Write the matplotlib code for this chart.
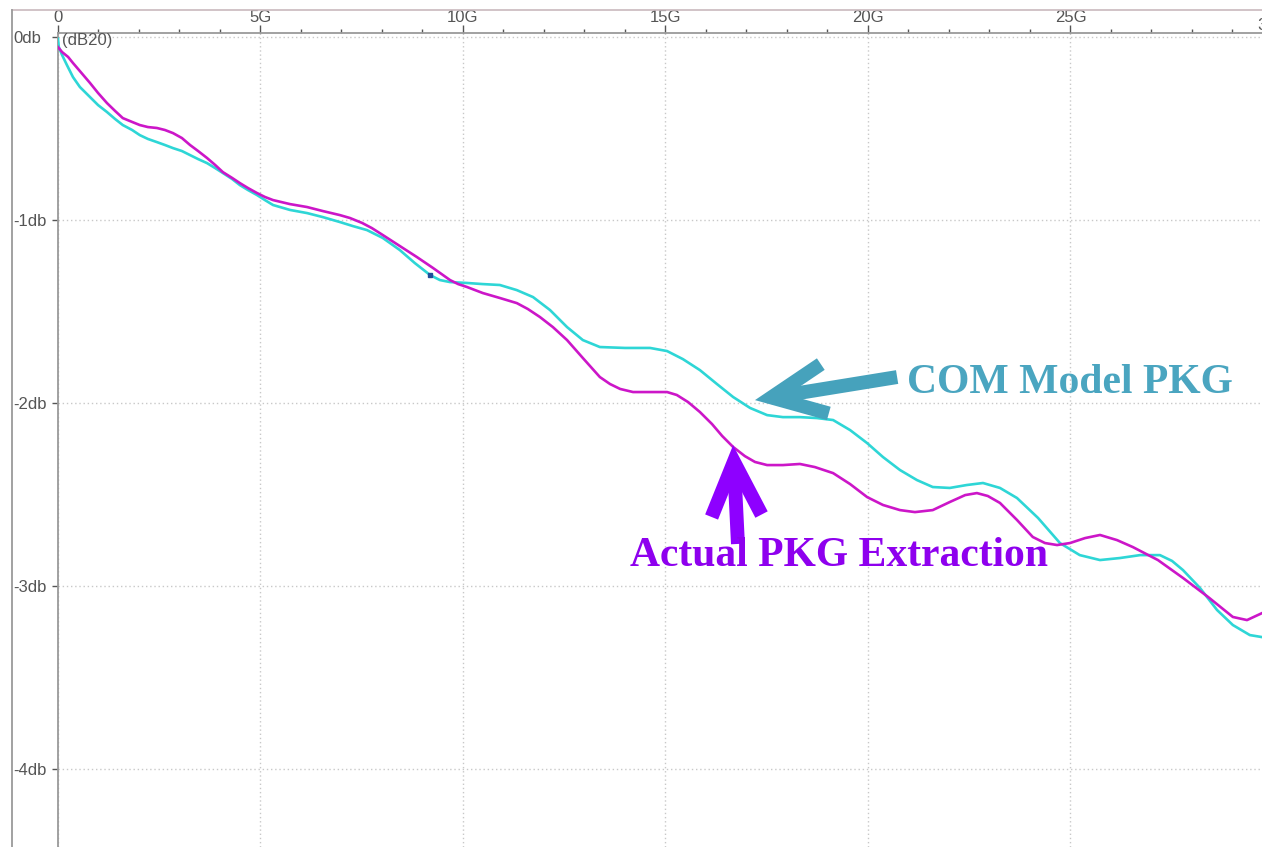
import matplotlib.pyplot as plt
from matplotlib.lines import Line2D
from matplotlib.transforms import blended_transform_factory

# frequency in GHz, loss in dB
actual_freq = [0.00, 0.10, 0.25, 0.37, 0.54, 0.79, 0.99, 1.21, 1.41, 1.60, 1.83, 2.02, 2.22,
               2.44, 2.64, 2.84, 3.06, 3.26, 3.46, 3.68, 3.88, 4.07, 4.30, 4.49, 4.69, 4.91,
               5.11, 5.31, 5.73, 6.15, 6.54, 6.96, 7.21, 7.51, 7.75, 8.02, 8.44, 8.86, 9.26,
               9.68, 9.88, 10.10, 10.30, 10.49, 10.91, 11.33, 11.60, 11.90, 12.22, 12.57,
               12.96, 13.38, 13.63, 13.88, 14.20, 14.62, 15.04, 15.28, 15.56, 15.85, 16.15,
               16.40, 16.67, 16.96, 17.21, 17.51, 17.90, 18.32, 18.69, 19.14, 19.56, 19.98,
               20.37, 20.79, 21.16, 21.60, 22.02, 22.40, 22.69, 22.96, 23.26, 23.68, 24.07,
               24.37, 24.67, 24.99, 25.36, 25.73, 26.15, 26.54, 27.16, 27.78, 28.40, 29.01,
               29.36, 29.73]
actual_db = [-0.055, -0.082, -0.109, -0.142, -0.186, -0.251, -0.306, -0.361, -0.404, -0.443,
             -0.464, -0.481, -0.492, -0.497, -0.508, -0.525, -0.552, -0.590, -0.623, -0.661,
             -0.699, -0.738, -0.770, -0.798, -0.825, -0.852, -0.874, -0.891, -0.913, -0.929,
             -0.951, -0.973, -0.989, -1.016, -1.044, -1.082, -1.142, -1.202, -1.262, -1.328,
             -1.350, -1.366, -1.383, -1.399, -1.426, -1.454, -1.486, -1.530, -1.585, -1.656,
             -1.754, -1.858, -1.896, -1.923, -1.940, -1.940, -1.940, -1.956, -1.995, -2.049,
             -2.115, -2.180, -2.240, -2.290, -2.322, -2.339, -2.339, -2.333, -2.350, -2.383,
             -2.443, -2.514, -2.557, -2.585, -2.596, -2.585, -2.541, -2.503, -2.492, -2.508,
             -2.546, -2.639, -2.732, -2.765, -2.776, -2.765, -2.738, -2.721, -2.749, -2.787,
             -2.858, -2.956, -3.060, -3.169, -3.186, -3.148]

com_freq = [0.00, 0.02, 0.10, 0.22, 0.37, 0.54, 0.79, 0.99, 1.21, 1.41, 1.60, 1.83, 2.02, 2.22,
            2.44, 2.64, 2.84, 3.06, 3.26, 3.46, 3.68, 3.88, 4.07, 4.30, 4.49, 4.69, 4.91, 5.11,
            5.31, 5.73, 6.15, 6.54, 6.96, 7.28, 7.63, 8.02, 8.44, 8.81, 9.19, 9.43, 9.68,
            10.10, 10.49, 10.91, 11.33, 11.73, 12.15, 12.57, 12.96, 13.38, 14.00, 14.62,
            15.04, 15.43, 15.85, 16.27, 16.67, 17.09, 17.51, 17.90, 18.32, 18.74, 19.14,
            19.56, 19.98, 20.37, 20.79, 21.21, 21.60, 22.02, 22.44, 22.84, 23.26, 23.68,
            24.20, 24.74, 25.23, 25.73, 26.22, 26.72, 27.21, 27.51, 27.78, 28.20, 28.62,
            29.01, 29.43, 29.73]
com_db = [-0.01, -0.055, -0.098, -0.153, -0.219, -0.273, -0.328, -0.372, -0.410, -0.448,
          -0.481, -0.508, -0.536, -0.557, -0.574, -0.590, -0.607, -0.623, -0.645, -0.667,
          -0.689, -0.716, -0.743, -0.776, -0.809, -0.836, -0.863, -0.891, -0.918, -0.945,
          -0.962, -0.984, -1.011, -1.033, -1.055, -1.098, -1.164, -1.235, -1.301, -1.328,
          -1.339, -1.344, -1.350, -1.355, -1.383, -1.421, -1.492, -1.585, -1.656, -1.694,
          -1.699, -1.699, -1.716, -1.760, -1.820, -1.896, -1.967, -2.027, -2.066, -2.077,
          -2.077, -2.082, -2.093, -2.148, -2.219, -2.295, -2.366, -2.421, -2.459, -2.464,
          -2.448, -2.437, -2.464, -2.519, -2.628, -2.765, -2.831, -2.858, -2.847, -2.831,
          -2.831, -2.863, -2.913, -3.011, -3.131, -3.213, -3.268, -3.279]

marker_freq = [9.19]
marker_db = [-1.30]

x_ticks = [0, 5, 10, 15, 20, 25]
x_labels = ["0", "5G", "10G", "15G", "20G", "25G"]
y_ticks = [0, -1, -2, -3, -4]
y_labels = ["0db", "-1db", "-2db", "-3db", "-4db"]

W, H = 1262, 847
fig = plt.figure(figsize=(W / 100, H / 100), dpi=100)
ax = fig.add_axes([58 / W, 0, 1 - 58 / W, (H - 33) / H])

ax.plot(com_freq, com_db, color="#2ED6D6", lw=1.9, zorder=3)
ax.plot(actual_freq, actual_db, color="#CC16C8", lw=1.9, zorder=4)
ax.plot(marker_freq, marker_db, "s", color="#1F4E9A", ms=3.5, zorder=5)

ax.set_xlim(0, 29.73)
ax.set_ylim(-4.426, 0.022)

# axis on top, labels like the simulator
lab_font = dict(family="Liberation Sans", size=12)
ax.xaxis.tick_top()
ax.set_xticks(x_ticks)
ax.set_xticklabels(x_labels, fontdict=lab_font)
ax.set_xticks(range(0, 30), minor=True)
ax.set_yticks(y_ticks)
ax.set_yticklabels(y_labels, fontdict=lab_font)
ax.tick_params(axis="x", which="major", length=6, width=1, color="#555555", pad=0,
               labelcolor="#555555")
ax.tick_params(axis="x", which="minor", length=3, width=1, color="#555555")
ax.tick_params(axis="y", length=4, width=1, color="#555555", pad=28, labelcolor="#555555")
for lab in ax.get_yticklabels():
    lab.set_horizontalalignment("left")

for s in ["right", "bottom"]:
    ax.spines[s].set_visible(False)
for s in ["left", "top"]:
    ax.spines[s].set_color("#9A9A9A")
    ax.spines[s].set_linewidth(1.3)

ax.grid(True, which="major", color="#C8C8C8", linestyle=(0, (1, 2)), lw=1)
ax.set_axisbelow(True)

# the 30G label is cut by the window edge
trans = blended_transform_factory(ax.transData, ax.transAxes)
ax.text(30, 1.0, "30G", transform=trans, ha="center", va="bottom", color="#555555",
        clip_on=False, **lab_font)

fig.text(62 / W, 1 - 40 / H, "(dB20)", color="#555555", va="center", **lab_font)

# window frame
fig.add_artist(Line2D([12 / W, 1], [1 - 10 / H, 1 - 10 / H], color="#C9B9BE", lw=1.2))
fig.add_artist(Line2D([12 / W, 12 / W], [0, 1 - 10 / H], color="#9A9A9A", lw=1.3))

# annotations
arrow_style = "->,head_length=0.65,head_width=0.3"
ax.annotate("", xy=(17.21, -1.984), xytext=(20.72, -1.858),
            arrowprops=dict(arrowstyle=arrow_style, lw=10, color="#46A2BC", shrinkA=0,
                            shrinkB=0, mutation_scale=60, capstyle="butt", joinstyle="miter"),
            zorder=6)
ax.text(20.96, -1.89, "COM Model PKG", fontsize=30, fontweight="bold",
        family="Liberation Serif", color="#4AA5C0", va="center", ha="left", zorder=6)

ax.annotate("", xy=(16.67, -2.23), xytext=(16.79, -2.77),
            arrowprops=dict(arrowstyle=arrow_style, lw=10, color="#8E00FF", shrinkA=0,
                            shrinkB=0, mutation_scale=60, capstyle="butt", joinstyle="miter"),
            zorder=6)
ax.text(14.12, -2.836, "Actual PKG Extraction", fontsize=30, fontweight="bold",
        family="Liberation Serif", color="#8E00EE", va="center", ha="left", zorder=6)

fig.savefig("out.png", dpi=100)
